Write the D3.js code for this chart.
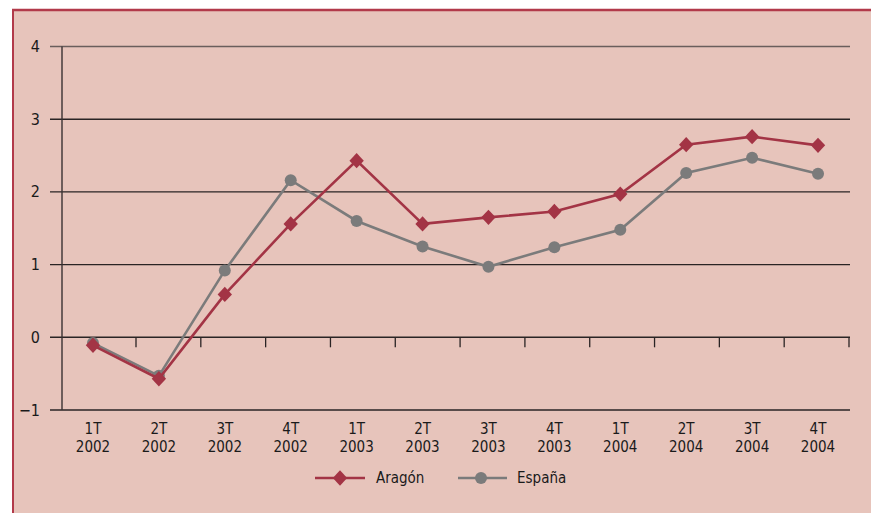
<!DOCTYPE html>
<html><head><meta charset="utf-8">
<script src="https://cdn.jsdelivr.net/npm/d3@7/dist/d3.min.js"></script>
<style>
html,body{margin:0;padding:0;background:#fff;}
svg{display:block;}
text{font-family:"DejaVu Sans Condensed","Liberation Sans Narrow","Arial Narrow",sans-serif;fill:#1a1a1a;}
</style></head><body>
<svg id="c" width="871" height="513"></svg>
<script>
const quarters = ["1T","2T","3T","4T","1T","2T","3T","4T","1T","2T","3T","4T"];
const years = ["2002","2002","2002","2002","2003","2003","2003","2003","2004","2004","2004","2004"];
const categories = quarters.map((q,i)=>q+" "+years[i]);
const aragon = [-0.11,-0.57,0.59,1.56,2.43,1.56,1.65,1.73,1.97,2.65,2.76,2.64];
const espana = [-0.08,-0.53,0.92,2.16,1.60,1.25,0.97,1.24,1.48,2.26,2.47,2.25];
const yTicks = [-1,0,1,2,3,4];
const seriesNames = ["Aragón","España"];

const svg = d3.select("#c");
// background and border
svg.append("rect").attr("x",12).attr("y",9).attr("width",871).attr("height",520).attr("fill","#e7c4bb");
svg.append("line").attr("x1",12).attr("x2",871).attr("y1",10).attr("y2",10).attr("stroke","#b23a4a").attr("stroke-width",2.5);
svg.append("line").attr("x1",13).attr("x2",13).attr("y1",9).attr("y2",513).attr("stroke","#b23a4a").attr("stroke-width",2);

const mLeft=62, mRight=849, mTop=46.5, mBottom=410;
const x = d3.scalePoint().domain(categories).range([mLeft,mRight]).padding(0.47);
const y = d3.scaleLinear().domain([-1,4]).range([mBottom,mTop]);

// gridlines
const g = svg.append("g");
g.selectAll("line.grid").data(yTicks).join("line")
  .attr("x1",50).attr("x2",850).attr("y1",d=>y(d)).attr("y2",d=>y(d))
  .attr("stroke",d=>d===4?"#6a5e5c":"#2a2424").attr("stroke-width",1.4);
// y axis line
g.append("line").attr("x1",mLeft).attr("x2",mLeft).attr("y1",y(4)).attr("y2",y(-1)).attr("stroke","#3a3232").attr("stroke-width",1.4);
// y labels
g.selectAll("text.yl").data(yTicks).join("text")
  .attr("x",40).attr("y",d=>y(d)+5.5).attr("text-anchor","end").attr("font-size",16)
  .text(d=>d<0?"\u2212"+Math.abs(d):d);
// ticks on zero line
const tickX = d3.scaleLinear().domain([0,categories.length-1]).range([136,849]);
g.selectAll("line.tk").data(d3.range(categories.length)).join("line")
  .attr("x1",d=>tickX(d)).attr("x2",d=>tickX(d)).attr("y1",y(0)).attr("y2",y(0)+10)
  .attr("stroke","#2a2424").attr("stroke-width",1.3);
// x labels
const xl = g.selectAll("text.xl").data(categories).join("text")
  .attr("text-anchor","middle").attr("font-size",15);
xl.append("tspan").attr("x",d=>x(d)).attr("y",434).text((d,i)=>quarters[i]);
xl.append("tspan").attr("x",d=>x(d)).attr("y",452).text((d,i)=>years[i]);

const colors = ["#a33445","#7b7b7b"];
const line = d3.line().x((d,i)=>x(categories[i])).y(d=>y(d));
const diamond = d3.symbol().type(d3.symbolDiamond).size(68);
const dScale = "scale(1.62,1)";
// España first (behind)
svg.append("path").datum(espana).attr("d",line).attr("fill","none").attr("stroke",colors[1]).attr("stroke-width",2.6);
svg.selectAll("circle.es").data(espana).join("circle")
  .attr("cx",(d,i)=>x(categories[i])).attr("cy",d=>y(d)).attr("r",6).attr("fill",colors[1]);
svg.append("path").datum(aragon).attr("d",line).attr("fill","none").attr("stroke",colors[0]).attr("stroke-width",2.6);
svg.selectAll("path.ar").data(aragon).join("path")
  .attr("transform",(d,i)=>`translate(${x(categories[i])},${y(d)}) ${dScale}`).attr("d",diamond).attr("fill",colors[0]);

// legend
const leg = svg.append("g");
leg.append("line").attr("x1",315).attr("x2",365).attr("y1",478).attr("y2",478).attr("stroke",colors[0]).attr("stroke-width",2.6);
leg.append("path").attr("transform",`translate(340,478) ${dScale}`).attr("d",diamond).attr("fill",colors[0]);
leg.append("text").attr("x",376).attr("y",483).attr("font-size",15).text(seriesNames[0]);
leg.append("line").attr("x1",458).attr("x2",507).attr("y1",478).attr("y2",478).attr("stroke",colors[1]).attr("stroke-width",2.6);
leg.append("circle").attr("cx",481).attr("cy",478).attr("r",6).attr("fill",colors[1]);
leg.append("text").attr("x",517).attr("y",483).attr("font-size",15).text(seriesNames[1]);
</script>
</body></html>
